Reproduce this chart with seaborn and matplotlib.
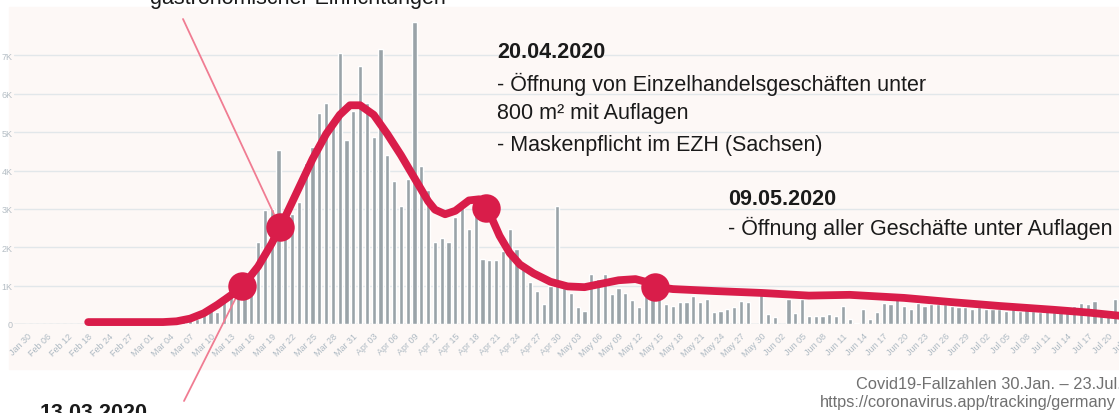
import numpy as np
import pandas as pd
import matplotlib
matplotlib.use("Agg")
import matplotlib.pyplot as plt
from matplotlib.patches import Rectangle
import seaborn as sns

# daily new cases in thousands, one entry per reported day
early_dates = ["Jan 30", "Jan 31", "Feb 01", "Feb 06", "Feb 07", "Feb 09",
               "Feb 12", "Feb 13", "Feb 14", "Feb 18", "Feb 20", "Feb 21"]
later_dates = list(pd.date_range("2020-02-24", "2020-07-23").strftime("%b %d"))
dates = early_dates + later_dates

cases = [
    0, 0, 0, 0, 0, 0, 0, 0, 0, 0, 0, 0, 0, 0, 0, 0, 0, 0,
    0.02, 0.03, 0.04, 0.05, 0.06,
    0.19, 0.15, 0.12, 0.26, 0.39, 0.32, 0.76, 0.80, 0.95, 1.00,
    0.97, 2.13, 2.97, 3.00, 4.53, 2.90, 2.86, 3.17, 4.20, 4.60,
    5.51, 5.75, 5.30, 7.05, 4.79, 5.56, 6.73, 5.75, 4.86, 7.16,
    4.40, 3.73, 3.08, 3.78, 7.88, 4.12, 3.49, 2.13, 2.24, 2.13,
    2.79, 3.05, 2.47, 3.00, 1.69, 1.67, 1.67, 1.91, 2.47, 1.95,
    1.43, 1.09, 0.87, 0.52, 1.00, 3.08, 0.95, 0.82, 0.43, 0.35,
    1.30, 1.17, 1.30, 0.78, 0.95, 0.82, 0.63, 0.43, 0.74, 0.75,
    0.74, 0.52, 0.48, 0.58, 0.57, 0.72, 0.58, 0.65, 0.32, 0.35,
    0.39, 0.43, 0.61, 0.58, 0.00, 0.91, 0.26, 0.17, 0.00, 0.65,
    0.29, 0.65, 0.22, 0.22, 0.22, 0.26, 0.22, 0.48, 0.13, 0.02,
    0.39, 0.13, 0.30, 0.56, 0.52, 0.78, 0.48, 0.39, 0.56, 0.48,
    0.52, 0.52, 0.52, 0.48, 0.43, 0.43, 0.39, 0.43, 0.39, 0.39,
    0.39, 0.35, 0.39, 0.35, 0.39, 0.35, 0.30, 0.35, 0.30, 0.30,
    0.30, 0.48, 0.56, 0.52, 0.61, 0.35, 0.35, 0.65, 0.56, 0.61,
]

# hand drawn trend curve (day index, thousands)
trend_day = [9, 20, 22, 24, 26, 28, 30, 32, 34, 36, 38, 40, 42, 44, 46,
             47.5, 49, 51, 53, 55, 57, 59, 60, 61.5, 63, 65, 66.5, 68,
             69.5, 71, 72.5, 74.5, 77, 79.5, 82, 84.5, 87, 89.5, 91,
             92.5, 95, 101, 108, 115, 121, 129, 136, 143, 151, 156, 161, 163]
trend_val = [0.05, 0.05, 0.07, 0.14, 0.28, 0.5, 0.75, 1.05, 1.5, 2.1, 2.8,
             3.55, 4.3, 4.95, 5.45, 5.7, 5.7, 5.45, 4.95, 4.4, 3.8, 3.2,
             2.98, 2.86, 2.95, 3.22, 3.25, 2.9, 2.3, 1.85, 1.55, 1.32,
             1.1, 0.98, 0.96, 1.05, 1.14, 1.17, 1.1, 0.97, 0.91, 0.86,
             0.81, 0.74, 0.76, 0.68, 0.57, 0.47, 0.37, 0.3, 0.21, 0.18]

# event markers on the curve
event_day = [31.6, 37.2, 67.5, 92.4]
event_val = [0.99, 2.53, 3.02, 0.96]

ytick_vals = [0, 1, 2, 3, 4, 5, 6, 7]
ytick_text = ["0", "1K", "2K", "3K", "4K", "5K", "6K", "7K"]

RED = "#d91d4a"
BAR = "#9aa3a8"
W, H = 1119, 414

sns.set_theme(style="white")
plt.rcParams["font.family"] = ["Liberation Sans", "DejaVu Sans"]

fig = plt.figure(figsize=(W / 100, H / 100), dpi=100)
fig.patch.set_facecolor("white")


def fx(x):
    return x / W


def fy(y):
    return 1 - y / H


# light tinted panel behind the chart
fig.patches.append(Rectangle((fx(9), fy(370)), 1, fy(8) - fy(370),
                             transform=fig.transFigure, color="#fdf8f6",
                             zorder=-5))

ax = fig.add_axes([fx(14), fy(325), fx(1140 - 14), fy(18) - fy(325)])
ax.set_facecolor("none")
ax.set_zorder(2)

df = pd.DataFrame({"day": np.arange(len(cases)), "cases": cases})
sns.barplot(data=df, x="day", y="cases", color=BAR, saturation=1,
            width=0.62, errorbar=None, ax=ax, zorder=2)
sns.lineplot(x=trend_day, y=trend_val, color=RED, linewidth=5.6,
             solid_capstyle="round", solid_joinstyle="round",
             ax=ax, zorder=4, clip_on=False)
sns.scatterplot(x=event_day, y=event_val, s=420, color=RED,
                edgecolor=RED, linewidth=0, ax=ax, zorder=5, clip_on=False)

ax.set_xlim(-1.91, 163.7)
ax.set_ylim(0, 8)
ax.set_yticks(ytick_vals)
ax.set_yticklabels(ytick_text)
ax.grid(axis="y", color="#e2e7ea", linewidth=1)
ax.grid(axis="x", visible=False)
ax.set_axisbelow(True)
for s in ax.spines.values():
    s.set_visible(False)
ax.axhline(0, color="#cdd7de", linewidth=1, zorder=1)

ticks = list(range(0, len(dates), 3))
ax.set_xticks(ticks)
ax.set_xticklabels([dates[i] for i in ticks], rotation=45, ha="right",
                   rotation_mode="anchor")
ax.tick_params(axis="x", length=0, pad=5, labelsize=6.5, labelcolor="#aebac3")
ax.tick_params(axis="y", length=0, pad=1, labelsize=6.5, labelcolor="#b5bec5")
ax.set_xlabel("")
ax.set_ylabel("")

# leader lines to the first two events
ax.annotate("", xy=(event_day[1], event_val[1]), xycoords="data",
            xytext=(fx(183), fy(20)), textcoords="figure fraction",
            arrowprops=dict(arrowstyle="-", color="#f07c92", lw=1.3,
                            shrinkA=0, shrinkB=10))
ax.annotate("", xy=(event_day[0], event_val[0]), xycoords="data",
            xytext=(fx(184), fy(402)), textcoords="figure fraction",
            arrowprops=dict(arrowstyle="-", color="#f07c92", lw=1.3,
                            shrinkA=0, shrinkB=10))

txt = dict(fontsize=15.5, color="#1a1a1a")
fig.text(fx(150), fy(4), "gastronomischer Einrichtungen", va="baseline", **txt)
fig.text(fx(40), fy(403), "13.03.2020", va="top", fontweight="bold", **txt)

fig.text(fx(497), fy(52), "20.04.2020", va="center", fontweight="bold", **txt)
fig.text(fx(497), fy(84), "- Öffnung von Einzelhandelsgeschäften unter",
         va="center", **txt)
fig.text(fx(497), fy(114), "800 m² mit Auflagen", va="center", **txt)
fig.text(fx(497), fy(146), "- Maskenpflicht im EZH (Sachsen)", va="center",
         **txt)

fig.text(fx(728), fy(200), "09.05.2020", va="center", fontweight="bold", **txt)
fig.text(fx(728), fy(228), "- Öffnung aller Geschäfte unter Auflagen",
         va="center", **txt)

fig.text(fx(856), fy(385), "Covid19-Fallzahlen 30.Jan. – 23.Jul.",
         va="center", fontsize=11.8, color="#707070")
fig.text(fx(820), fy(403), "https://coronavirus.app/tracking/germany",
         va="center", fontsize=11.8, color="#707070")

fig.savefig("out.png", dpi=100, facecolor="white")
